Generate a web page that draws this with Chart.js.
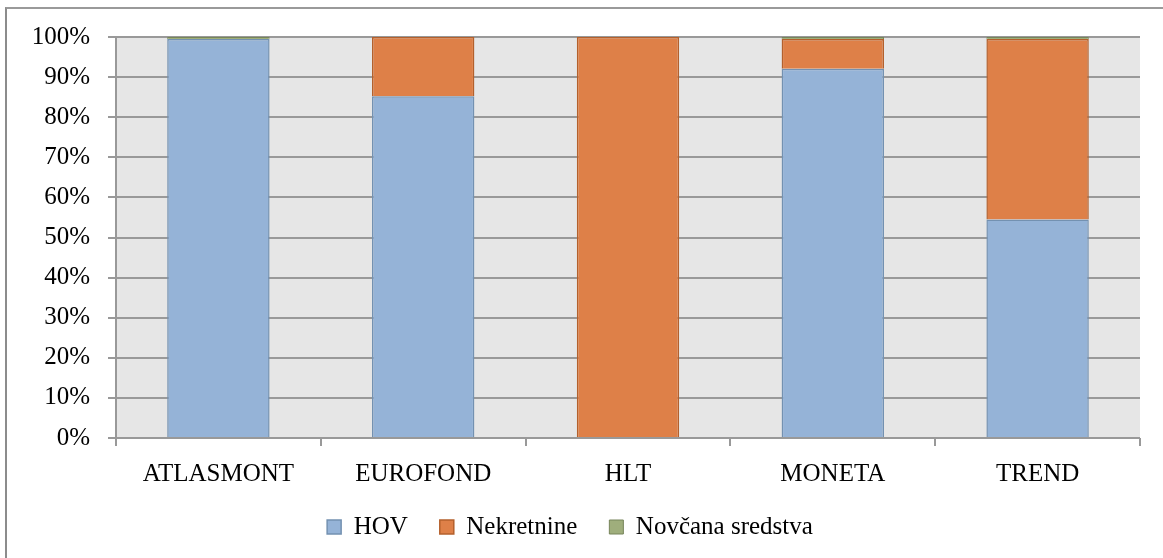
<!DOCTYPE html>
<html>
<head>
<meta charset="utf-8">
<script src="https://cdn.jsdelivr.net/npm/chart.js@4/dist/chart.umd.min.js"></script>
<style>
    body { margin: 0; background: #fff; }
    #wrap { position: relative; width: 1163px; height: 558px; overflow: hidden; }
    #frame {
        position: absolute; left: 5px; top: 7px; width: 1200px; height: 600px;
        border-left: 2px solid #8c8c8c; border-top: 2px solid #9a9a9a;
    }
    canvas { position: absolute; left: 0; top: 0; }
</style>
</head>
<body>
<div id="wrap">
    <div id="frame"></div>
    <canvas id="chart" width="1163" height="558"></canvas>
</div>
<script>
// fondovi (kategorije)
const categories = ['ATLASMONT', 'EUROFOND', 'HLT', 'MONETA', 'TREND'];

// struktura imovine u %
const hov = [99.5, 85.2, 0, 92.1, 54.5];
const nekretnine = [0, 14.8, 100, 7.4, 45];
const novcanaSredstva = [0.5, 0, 0, 0.5, 0.5];

const yTicks = [0, 10, 20, 30, 40, 50, 60, 70, 80, 90, 100];

// siva pozadina područja grafikona
const plotBackground = {
    id: 'plotBackground',
    beforeDraw(chart) {
        const { ctx, chartArea } = chart;
        ctx.save();
        ctx.fillStyle = '#e6e6e6';
        ctx.fillRect(chartArea.left, chartArea.top, chartArea.right - chartArea.left, chartArea.bottom - chartArea.top);
        ctx.restore();
    }
};

const font = { family: "'Liberation Serif', 'DejaVu Serif', serif", size: 25 };

new Chart(document.getElementById('chart'), {
    type: 'bar',
    data: {
        labels: categories,
        datasets: [
            { label: 'HOV', data: hov, backgroundColor: '#95b3d7', borderColor: '#7391b1', borderWidth: 1.5 },
            { label: 'Nekretnine', data: nekretnine, backgroundColor: '#de8048', borderColor: '#b4602c', borderWidth: 1.5 },
            { label: 'Novčana sredstva', data: novcanaSredstva, backgroundColor: '#9fae7c', borderColor: '#76855a', borderWidth: 1 }
        ]
    },
    options: {
        responsive: false,
        animation: false,
        layout: { padding: { left: 0, right: 23, top: 37, bottom: 8.5 } },
        datasets: { bar: { categoryPercentage: 1, barPercentage: 0.5 } },
        scales: {
            x: {
                stacked: true,
                grid: { offset: true, drawOnChartArea: false, tickLength: 8, color: '#999', lineWidth: 2 },
                border: { display: false },
                ticks: { color: '#000', font: font, padding: 13, maxRotation: 0 },
                afterFit: scale => { scale.height = 44.5; }
            },
            y: {
                stacked: true,
                min: 0,
                max: 100,
                afterBuildTicks: scale => { scale.ticks = yTicks.map(v => ({ value: v })); },
                grid: { color: '#999', lineWidth: 2, tickLength: 8 },
                border: { display: true, color: '#999', width: 2 },
                ticks: { color: '#000', font: font, padding: 18, callback: v => v + '%' },
                afterFit: scale => { scale.width = 116; }
            }
        },
        plugins: {
            legend: {
                position: 'bottom',
                labels: { color: '#000', font: font, boxWidth: 14, boxHeight: 14, padding: 32 }
            },
            tooltip: { enabled: false }
        }
    },
    plugins: [plotBackground]
});
</script>
</body>
</html>
